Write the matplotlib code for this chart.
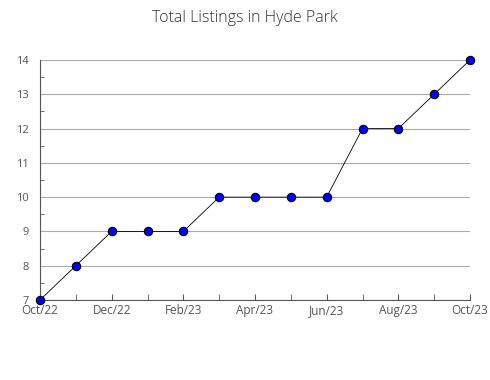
import matplotlib.pyplot as plt
from matplotlib.ticker import MultipleLocator

plt.rcParams['font.family'] = ['Open Sans', 'DejaVu Sans']

months = ['Oct/22', 'Nov/22', 'Dec/22', 'Jan/23', 'Feb/23', 'Mar/23', 'Apr/23',
          'May/23', 'Jun/23', 'Jul/23', 'Aug/23', 'Sep/23', 'Oct/23']
listings = [7, 8, 9, 9, 9, 10, 10, 10, 10, 12, 12, 13, 14]

fig = plt.figure(figsize=(4.9, 3.8), dpi=100)
ax = fig.add_axes([40/490, 80/380, 430/490, 240/380])

x = list(range(len(months)))
ax.plot(x, listings, color='black', lw=0.6, marker='o', markersize=6,
        markerfacecolor='#0000ff', markeredgecolor='black', markeredgewidth=0.8,
        clip_on=False, zorder=3)

ax.set_xlim(0, len(months) - 1)
ax.set_ylim(7, 14)
ax.set_xticks(x[::2])
ax.set_xticklabels(months[::2])
ax.set_xticks(x, minor=True)
ax.yaxis.set_major_locator(MultipleLocator(1))
ax.yaxis.set_minor_locator(MultipleLocator(0.5))
ax.grid(axis='y', color='#aaaaaa', lw=0.8)
ax.set_axisbelow(True)

for s in ['top', 'right']:
    ax.spines[s].set_visible(False)
for s in ['left', 'bottom']:
    ax.spines[s].set_color('#555555')
ax.tick_params(axis='x', which='both', direction='in', length=4, color='#555555',
               labelsize=8.5, labelcolor='#555555', pad=3)
ax.tick_params(axis='y', which='major', length=0, labelsize=8, labelcolor='#555555', pad=8)
ax.tick_params(axis='y', which='minor', direction='in', length=3, color='#555555')

fig.suptitle('Total Listings in Hyde Park', y=0.975, fontsize=11.5, color='#333333',
             fontweight='light')

fig.savefig('out.png', dpi=100)
